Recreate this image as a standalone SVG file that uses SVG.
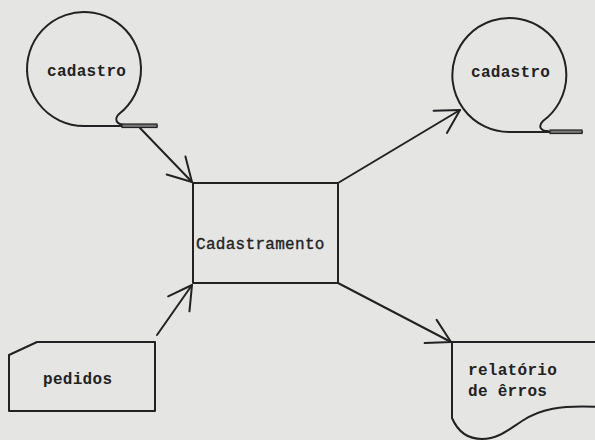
<svg xmlns="http://www.w3.org/2000/svg" width="595" height="440" viewBox="0 0 595 440">
<style>
  .shape { fill: none; stroke: #222; stroke-width: 2; stroke-linejoin: round; stroke-linecap: round; }
  .tail { fill: #777; stroke: #222; stroke-width: 1.2; }
  .lbl { font-family: "Liberation Mono", "DejaVu Sans Mono", monospace; font-size: 16px; font-weight: bold; fill: #222; letter-spacing: 0.3px; }
  .lbl2 { font-family: "Liberation Mono", "DejaVu Sans Mono", monospace; font-size: 16px; fill: #222; stroke: #222; stroke-width: 0.35; letter-spacing: 0.3px; }
  .conn { fill: none; stroke: #222; stroke-width: 2; stroke-linecap: round; }
</style>
<defs>
  <marker id="arr" markerUnits="userSpaceOnUse" markerWidth="40" markerHeight="40" viewBox="-30 -20 34 40" refX="0" refY="0" orient="auto">
    <path d="M -23 -13 L 0 0 L -23 13" fill="none" stroke="#222" stroke-width="2" stroke-linecap="round" stroke-linejoin="round"/>
  </marker>
</defs>
<rect x="0" y="0" width="595" height="440" fill="#e5e5e3"/>

<g id="cadastro-in">
  <path class="shape" d="M 157 126 L 84 126 A 57 57 0 1 1 119 114 C 114 119, 116 124, 124 125"/>
  <rect class="tail" x="122" y="124" width="35" height="3.5"/>
  <text class="lbl" x="47" y="76">cadastro</text>
</g>

<g id="cadastro-out">
  <path class="shape" d="M 582 132 L 509 132 A 57 57 0 1 1 543 121 C 538 126, 540 131, 548 131"/>
  <rect class="tail" x="550" y="130" width="32" height="3.5"/>
  <text class="lbl" x="471" y="77">cadastro</text>
</g>

<g id="cadastramento">
  <rect class="shape" x="193" y="183" width="145" height="100"/>
  <text class="lbl2" x="196" y="249">Cadastramento</text>
</g>

<g id="pedidos">
  <path class="shape" d="M 9 355 L 37 342 L 155 342 L 155 411 L 9 411 Z"/>
  <text class="lbl" x="43" y="384">pedidos</text>
</g>

<g id="relatorio">
  <path class="shape" d="M 600 342 L 452 342 L 452 418 C 458 432, 468 439, 482 439 C 498 439, 508 430, 522 421 C 540 409, 560 405, 600 407"/>
  <text class="lbl" x="468" y="375">relatório</text>
  <text class="lbl" x="468" y="396">de êrros</text>
</g>

<g id="connectors">
  <path class="conn" d="M 140 128 L 192 182" marker-end="url(#arr)"/>
  <path class="conn" d="M 157 335 L 192 285" marker-end="url(#arr)"/>
  <path class="conn" d="M 338 183 L 460 110" marker-end="url(#arr)"/>
  <path class="conn" d="M 338 283 L 451 342" marker-end="url(#arr)"/>
</g>
</svg>
